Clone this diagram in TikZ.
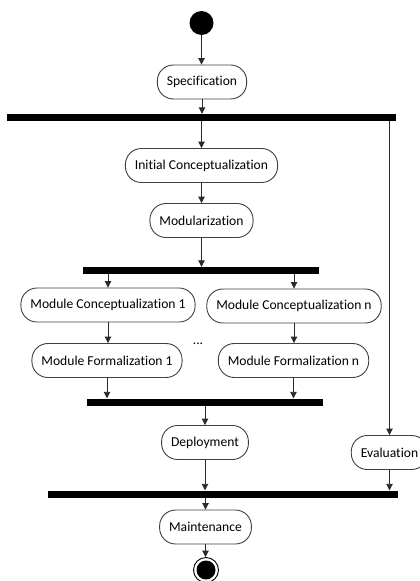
\documentclass[tikz,border=0pt]{standalone}
\usepackage{fontspec}
\setmainfont{Carlito}[Ligatures=NoCommon]
\usetikzlibrary{arrows.meta}
\definecolor{edgec}{HTML}{2A2A2A}
\definecolor{boxc}{HTML}{404040}
\begin{document}
\begin{tikzpicture}[x=1pt,y=-1pt,
  act/.style={draw=boxc,line width=0.9pt,rounded corners=16pt,minimum height=34pt,inner xsep=9.5pt,inner ysep=0pt,fill=white,font=\fontsize{13.6}{16}\selectfont,text=black},
  bar/.style={fill=black,draw=none,minimum height=7pt,inner sep=0pt},
  arr/.style={draw=edgec,line width=0.9pt,-{Triangle[length=6.5pt,width=6.5pt]}},
  ln/.style={draw=edgec,line width=0.9pt}]
\useasboundingbox (0,0) rectangle (420,581);
\node[circle,fill=black,minimum size=24pt,inner sep=0pt] (start) at (201.5,23) {};
\node[act] (spec) at (202,82) {Specification};
\node[bar,minimum width=389pt] (b1) at (201.5,117.5) {};
\node[act] (ic) at (201.5,165.5) {Initial Conceptualization};
\node[act] (mod) at (201.5,220.5) {Modularization};
\node[bar,minimum width=236pt] (b2) at (201,270.5) {};
\node[act] (mc1) at (108,305) {Module Conceptualization 1};
\node[act] (mcn) at (294,306) {Module Conceptualization n};
\node[act] (mf1) at (107,360.5) {Module Formalization 1};
\node[act] (mfn) at (293.5,360.5) {Module Formalization n};
\node[font=\fontsize{13.6}{16}\selectfont,text=black] (dots) at (198,344) {...};
\node[bar,minimum width=236pt] (b3) at (205,402) {};
\node[act] (dep) at (205,442.5) {Deployment};
\node[act] (eval) at (389.5,452.5) {Evaluation};
\node[bar,minimum width=350pt] (b4) at (223,494) {};
\node[act] (maint) at (205.5,527) {Maintenance};
\node[circle,draw=black,line width=0.9pt,minimum size=25pt,inner sep=0pt] (endo) at (206,570) {};
\node[circle,fill=black,minimum size=19pt,inner sep=0pt] (endi) at (206,570) {};

\draw[arr] (start.south) -- (start.south |- spec.north);
\draw[arr] (spec.south) -- (spec.south |- b1.north);
\draw[arr] (ic.north |- b1.south) -- (ic.north);
\draw[arr] (eval.north |- b1.south) -- (eval.north);
\draw[arr] (ic.south) -- (mod.north);
\draw[arr] (mod.south) -- (mod.south |- b2.north);
\draw[arr] (mc1.north |- b2.south) -- (mc1.north);
\draw[arr] (mcn.north |- b2.south) -- (mcn.north);
\draw[arr] (mc1.south) -- (mc1.south |- mf1.north);
\draw[arr] (mcn.south) -- (mcn.south |- mfn.north);
\draw[arr] (mf1.south) -- (mf1.south |- b3.north);
\draw[arr] (mfn.south) -- (mfn.south |- b3.north);
\draw[arr] (dep.north |- b3.south) -- (dep.north);
\draw[arr] (dep.south) -- (dep.south |- b4.north);
\draw[arr] (eval.south) -- (eval.south |- b4.north);
\draw[arr] (maint.north |- b4.south) -- (maint.north);
\draw[arr] (maint.south) -- (maint.south |- endo.north);
\end{tikzpicture}
\end{document}
